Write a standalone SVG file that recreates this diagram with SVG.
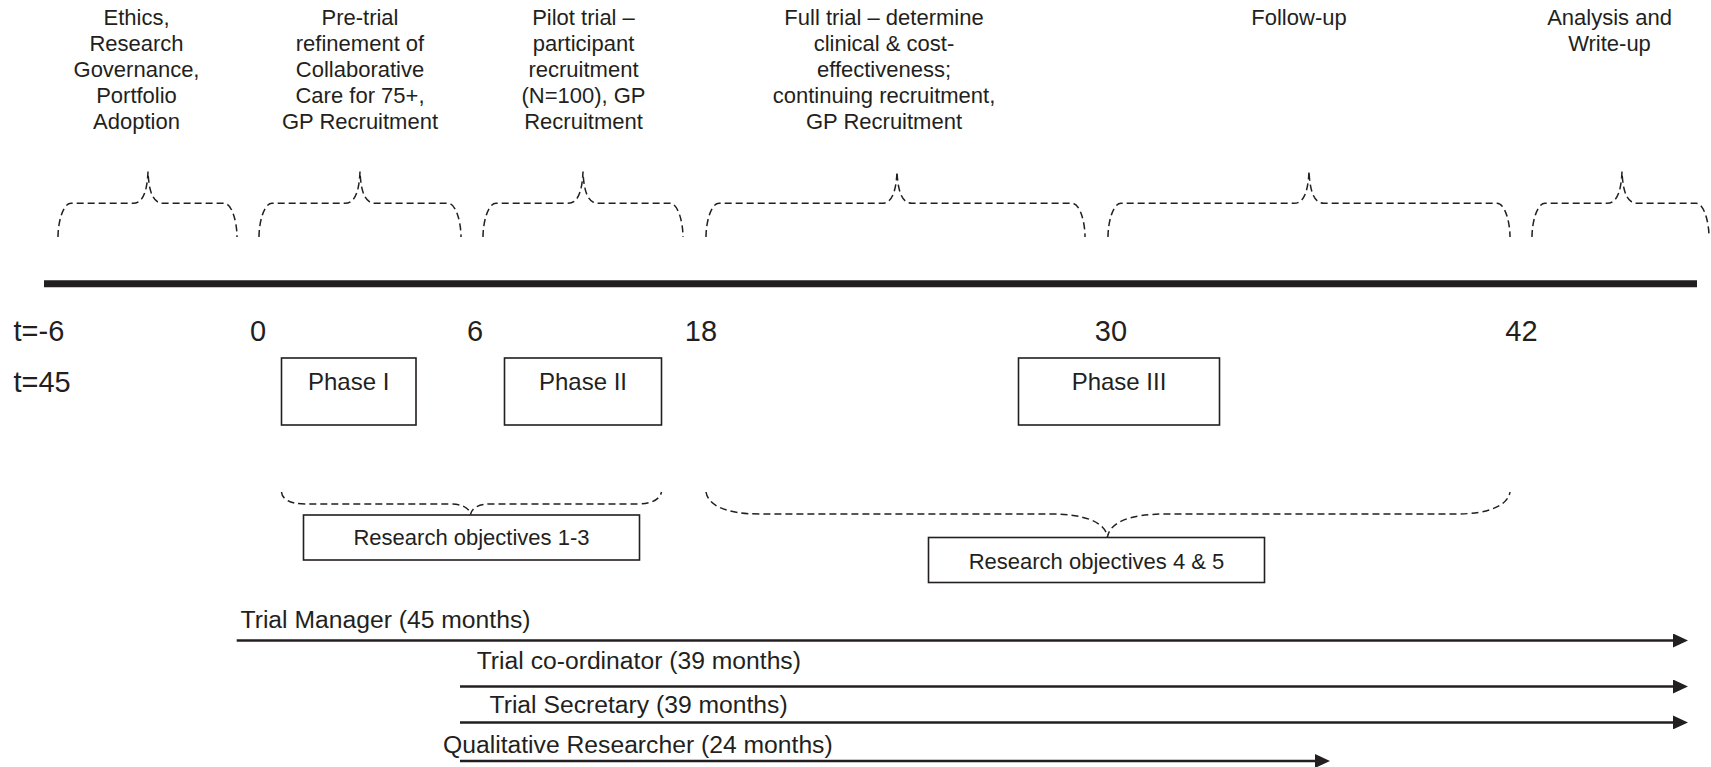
<svg xmlns="http://www.w3.org/2000/svg" width="1711" height="767" viewBox="0 0 1711 767">
<style>
text{font-family:"Liberation Sans",Arial,sans-serif;fill:#231f20}
.top{font-size:22px;text-anchor:middle}
.ax{font-size:29px}
.axm{font-size:29px;text-anchor:middle}
.ph{font-size:24px;text-anchor:middle}
.ro{font-size:22px;text-anchor:middle}
.role{font-size:24.7px}
.brace{fill:none;stroke:#231f20;stroke-width:1.5;stroke-dasharray:7 4}
.box{fill:#fff;stroke:#231f20;stroke-width:1.6}
.arr{stroke:#231f20;stroke-width:2.5;fill:none}
</style>
<defs>
<marker id="ah" markerUnits="userSpaceOnUse" markerWidth="15" markerHeight="14" refX="3" refY="7" orient="auto">
<path d="M0,0 L15,7 L0,14 Z" fill="#231f20"/>
</marker>
</defs>
<rect width="1711" height="767" fill="#fff"/>

<g id="labels-top">
<text class="top" x="136.5"><tspan x="136.5" y="25">Ethics,</tspan><tspan x="136.5" y="51">Research</tspan><tspan x="136.5" y="77">Governance,</tspan><tspan x="136.5" y="103">Portfolio</tspan><tspan x="136.5" y="129">Adoption</tspan></text>
<text class="top"><tspan x="360" y="25">Pre-trial</tspan><tspan x="360" y="51">refinement of</tspan><tspan x="360" y="77">Collaborative</tspan><tspan x="360" y="103">Care for 75+,</tspan><tspan x="360" y="129">GP Recruitment</tspan></text>
<text class="top"><tspan x="583.5" y="25">Pilot trial –</tspan><tspan x="583.5" y="51">participant</tspan><tspan x="583.5" y="77">recruitment</tspan><tspan x="583.5" y="103">(N=100), GP</tspan><tspan x="583.5" y="129">Recruitment</tspan></text>
<text class="top"><tspan x="884" y="25">Full trial – determine</tspan><tspan x="884" y="51">clinical &amp; cost-</tspan><tspan x="884" y="77">effectiveness;</tspan><tspan x="884" y="103">continuing recruitment,</tspan><tspan x="884" y="129">GP Recruitment</tspan></text>
<text class="top" x="1299" y="25">Follow-up</text>
<text class="top"><tspan x="1609.5" y="25">Analysis and</tspan><tspan x="1609.5" y="51">Write-up</tspan></text>
</g>

<g id="braces-top">
<path class="brace" d="M58,237 C58,222 63,203.3 71,203.3 H133 C141,203.3 147,196 148,171.5 C149,196 155,203.3 163,203.3 H224 C232,203.3 237,222 237,237"/>
<path class="brace" d="M259,237 C259,222 264,203.3 272,203.3 H345 C353,203.3 359,196 360,171.5 C361,196 367,203.3 375,203.3 H448 C456,203.3 461,222 461,237"/>
<path class="brace" d="M483,237 C483,222 488,203.3 496,203.3 H568 C576,203.3 582,196 583,171.5 C584,196 590,203.3 598,203.3 H670 C678,203.3 683,222 683,237"/>
<path class="brace" d="M706,237 C706,222 711,203.3 719,203.3 H882 C890,203.3 896,196 897,171.5 C898,196 904,203.3 912,203.3 H1072 C1080,203.3 1085,222 1085,237"/>
<path class="brace" d="M1108,237 C1108,222 1113,203.3 1121,203.3 H1294 C1302,203.3 1308,196 1309,171 C1310,196 1316,203.3 1324,203.3 H1497 C1505,203.3 1510,222 1510,237"/>
<path class="brace" d="M1532,237 C1532,222 1537,203.3 1545,203.3 H1607 C1615,203.3 1621,196 1622,171.5 C1623,196 1629,203.3 1637,203.3 H1696 C1704,203.3 1709,222 1709,237"/>
</g>

<g id="timeline">
<line x1="44" y1="283.7" x2="1697" y2="283.7" stroke="#231f20" stroke-width="7"/>
</g>

<g id="axis-labels">
<text class="ax" x="13.5" y="341">t=-6</text>
<text class="ax" x="13.5" y="392">t=45</text>
<text class="axm" x="258" y="341">0</text>
<text class="axm" x="475" y="341">6</text>
<text class="axm" x="701" y="341">18</text>
<text class="axm" x="1111" y="341">30</text>
<text class="axm" x="1521.5" y="341">42</text>
</g>

<g id="phase1">
<rect class="box" x="281.5" y="358" width="134.5" height="67"/>
<text class="ph" x="348.7" y="389.5">Phase I</text>
</g>
<g id="phase2">
<rect class="box" x="504.5" y="358" width="157" height="67"/>
<text class="ph" x="583" y="389.5">Phase II</text>
</g>
<g id="phase3">
<rect class="box" x="1018.5" y="358" width="201" height="67"/>
<text class="ph" x="1119" y="389.5">Phase III</text>
</g>

<g id="braces-bottom">
<path class="brace" d="M281.5,492 C282,499 290,504 305,504 H450 C461,504 469,507 470.5,514.5 C472,507 480,504 491,504 H638 C652,504 660,499 661.5,492"/>
<path class="brace" d="M706,492 C708,505 725,514 760,514 H1050 C1085,514 1105,522 1107.5,537 C1110,522 1130,514 1165,514 H1456 C1490,514 1508,505 1510,492"/>
</g>

<g id="ro13">
<rect class="box" x="303.5" y="515" width="336" height="45"/>
<text class="ro" x="471.5" y="544.5">Research objectives 1-3</text>
</g>
<g id="ro45">
<rect class="box" x="928.5" y="537.5" width="336" height="45"/>
<text class="ro" x="1096.5" y="568.5">Research objectives 4 &amp; 5</text>
</g>

<g id="connectors">
<line class="arr" x1="236.7" y1="640.5" x2="1676" y2="640.5" marker-end="url(#ah)"/>
<line class="arr" x1="460" y1="686.5" x2="1676" y2="686.5" marker-end="url(#ah)"/>
<line class="arr" x1="460" y1="722.4" x2="1676" y2="722.4" marker-end="url(#ah)"/>
<line class="arr" x1="460" y1="761" x2="1318" y2="761" marker-end="url(#ah)"/>
</g>

<g id="role-labels">
<text class="role" x="240.5" y="628">Trial Manager (45 months)</text>
<text class="role" x="476.7" y="669">Trial co-ordinator (39 months)</text>
<text class="role" x="489.5" y="713">Trial Secretary (39 months)</text>
<text class="role" x="443" y="753">Qualitative Researcher (24 months)</text>
</g>
</svg>
